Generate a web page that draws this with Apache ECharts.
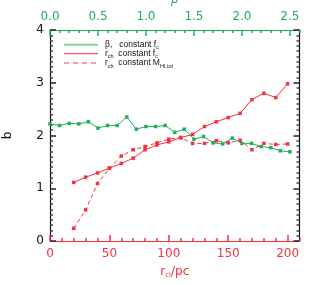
<!DOCTYPE html>
<html><head><meta charset="utf-8">
<script src="https://cdn.jsdelivr.net/npm/echarts@6/dist/echarts.min.js"></script>
<style>html,body{margin:0;padding:0;background:#fff}#c{width:332px;height:285px}</style>
</head><body><div id="c"></div>
<script>
const rValues = [20,30,40,50,60,70,80,90,100,110,120,130,140,150,160,170,180,190,200];
const rchConstFc = [1.11,1.21,1.29,1.38,1.47,1.57,1.73,1.82,1.88,1.96,2.02,2.17,2.26,2.34,2.42,2.68,2.80,2.72,2.98];
const rchConstM = [0.24,0.59,1.09,1.38,1.61,1.73,1.79,1.86,1.93,1.96,1.85,1.85,1.90,1.86,1.91,1.73,1.85,1.83,1.84];
const betaValues = [0.0,0.1,0.2,0.3,0.4,0.5,0.6,0.7,0.8,0.9,1.0,1.1,1.2,1.3,1.4,1.5,1.6,1.7,1.8,1.9,2.0,2.1,2.2,2.3,2.4,2.5];
const betaB = [2.22,2.19,2.23,2.22,2.26,2.14,2.19,2.19,2.35,2.12,2.17,2.17,2.19,2.06,2.12,1.93,1.98,1.86,1.84,1.95,1.85,1.85,1.79,1.77,1.71,1.69];
const bottomTicks = [0,50,100,150,200];
const topTicks = [0,0.5,1.0,1.5,2.0,2.5];

const RED = '#f5303f', RED2 = '#ff7a84', GREEN = '#1eb05a', GREEN_L = '#78d89c', BLACK = '#111';
const TW = 1.5, YTW = 1.5;
const FONT = 'DejaVu Sans';
const LFONT = 'Liberation Sans';
const legRich = {n:{fontSize:8.5,fontFamily:LFONT,fill:'#111',color:'#111',verticalAlign:'top',lineHeight:10},
                 s:{fontSize:5.5,fontFamily:LFONT,fill:'#111',color:'#111',verticalAlign:'top',padding:[5,0,0,0],lineHeight:6}};
const legendItems = [
  {text:'{n|β,   constant f}{s|c}', color:GREEN_L, width:2, dash:null, y:44.7},
  {text:'{n|r}{s|ch}{n|  constant f}{s|c}', color:RED, width:1, dash:null, y:53.7},
  {text:'{n|r}{s|ch}{n|  constant M}{s|HI,tot}', color:RED2, width:1.5, dash:[5,4], y:63}
];
const graphics = [];
legendItems.forEach(it => {
  graphics.push({type:'line', shape:{x1:64,y1:it.y,x2:98,y2:it.y},
    style:{stroke:it.color, lineWidth:it.width, lineDash:it.dash}});
  graphics.push({type:'text', x:105, y:it.y-5,
    style:{text:it.text, rich:legRich, fill:'#111', verticalAlign:'top'}});
});

const chart = echarts.init(document.getElementById('c'), null, {renderer:'canvas'});
chart.setOption({
  animation:false,
  grid:{left:50, right:32.5, top:30, bottom:44, containLabel:false, outerBoundsMode:'none'},
  graphic:graphics,
  xAxis:[
    {type:'value', position:'bottom', min:0, max:210, interval:10,
     axisLine:{show:true, onZero:false, lineStyle:{color:RED, width:1.2}},
     axisTick:{show:true, inside:true, length:3, lineStyle:{color:RED, width:TW}},
     axisLabel:{customValues:bottomTicks, color:RED, fontSize:12, fontFamily:FONT, margin:7},
     splitLine:{show:false},
     name:'{n|r}{s|cl}{n|/pc}', nameLocation:'middle', nameGap:25,
     nameTextStyle:{rich:{n:{fontSize:12,fontFamily:FONT,color:RED,verticalAlign:'top',lineHeight:13},
                          s:{fontSize:7,fontFamily:FONT,color:RED,verticalAlign:'top',padding:[6,0,0,0],lineHeight:7}}}},
    {type:'value', position:'bottom', min:0, max:210,
     axisLine:{show:false, onZero:false}, axisLabel:{show:false}, splitLine:{show:false},
     axisTick:{show:true, inside:true, length:6, customValues:bottomTicks, lineStyle:{color:RED, width:TW}}},
    {type:'value', position:'top', min:0, max:2.6, interval:0.1,
     axisLine:{show:true, onZero:false, lineStyle:{color:GREEN, width:1.2}},
     axisTick:{show:true, inside:true, length:3, lineStyle:{color:GREEN, width:TW}},
     axisLabel:{customValues:topTicks, color:GREEN, fontSize:12, fontFamily:FONT, margin:7, formatter:(v)=>v.toFixed(1)},
     splitLine:{show:false},
     name:'β', nameLocation:'middle', nameGap:16,
     nameTextStyle:{color:GREEN, fontSize:12, fontFamily:FONT, fontStyle:'italic'}},
    {type:'value', position:'top', min:0, max:2.6,
     axisLine:{show:false, onZero:false}, axisLabel:{show:false}, splitLine:{show:false},
     axisTick:{show:true, inside:true, length:6, customValues:topTicks, lineStyle:{color:GREEN, width:TW}}}
  ],
  yAxis:[
    {type:'value', position:'left', min:0, max:4, interval:1,
     axisLine:{show:true, onZero:false, lineStyle:{color:BLACK, width:1.2}},
     axisTick:{show:true, inside:true, length:6, lineStyle:{color:'#222', width:YTW}},
     minorTick:{show:true, splitNumber:10, length:3, lineStyle:{color:'#444', width:YTW}},
     axisLabel:{color:BLACK, fontSize:12, fontFamily:FONT, margin:6},
     splitLine:{show:false},
     name:'b', nameLocation:'middle', nameGap:36, nameTextStyle:{color:BLACK, fontSize:12, fontFamily:FONT}},
    {type:'value', position:'right', min:0, max:4, interval:1,
     axisLine:{show:true, onZero:false, lineStyle:{color:BLACK, width:1.2}},
     axisTick:{show:true, inside:true, length:6, lineStyle:{color:'#222', width:YTW}},
     minorTick:{show:true, splitNumber:10, length:3, lineStyle:{color:'#444', width:YTW}},
     axisLabel:{show:false}, splitLine:{show:false}}
  ],
  series:[
    {type:'line', xAxisIndex:2, yAxisIndex:0, data:betaValues.map((b,i)=>[b,betaB[i]]),
     symbol:'rect', symbolSize:3.5, lineStyle:{color:GREEN, width:1}, itemStyle:{color:GREEN}},
    {type:'line', xAxisIndex:0, yAxisIndex:0, data:rValues.map((r,i)=>[r,rchConstFc[i]]),
     symbol:'rect', symbolSize:3.5, lineStyle:{color:RED, width:1}, itemStyle:{color:RED}},
    {type:'line', xAxisIndex:0, yAxisIndex:0, data:rValues.map((r,i)=>[r,rchConstM[i]]),
     symbol:'rect', symbolSize:3.5, lineStyle:{color:RED, width:1, type:[4,3]}, itemStyle:{color:RED}}
  ]
});
</script></body></html>
